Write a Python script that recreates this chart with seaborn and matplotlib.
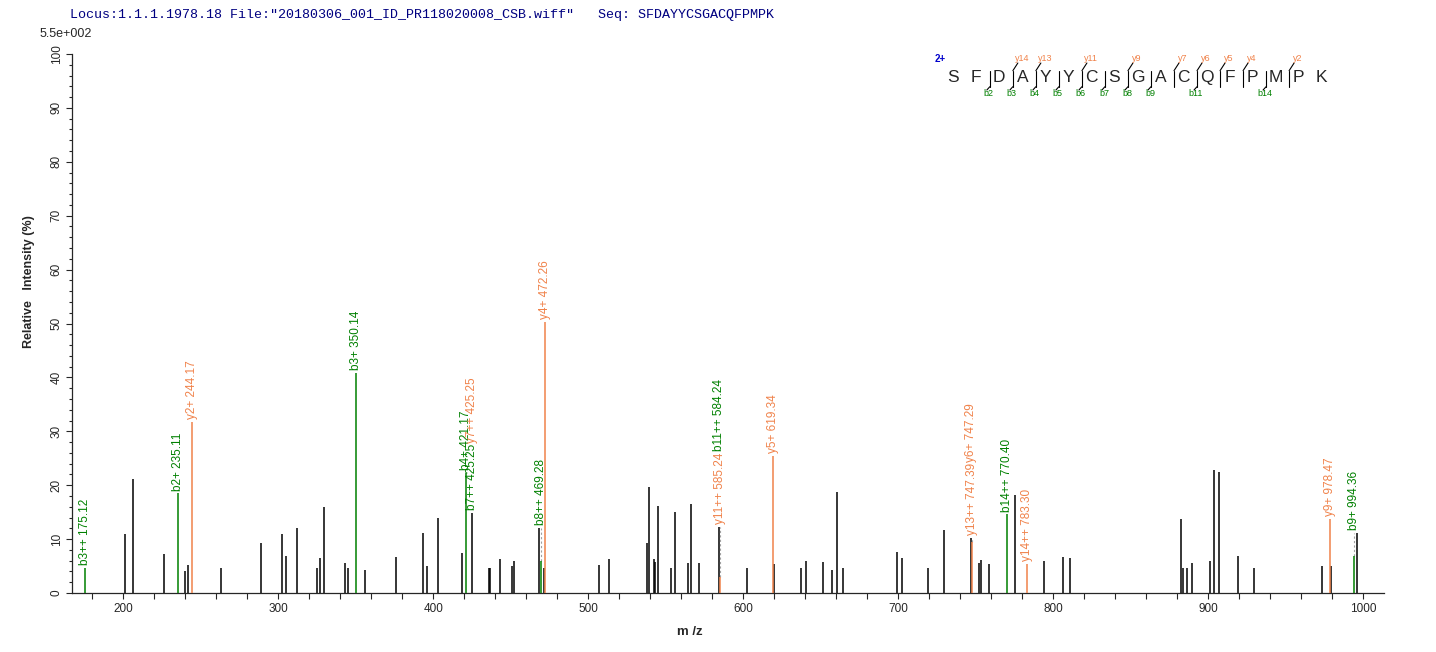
import seaborn as sns
import matplotlib.pyplot as plt
from matplotlib.ticker import MultipleLocator
from matplotlib.textpath import TextPath
from matplotlib.font_manager import FontProperties

# header / peptide info
HEADER = 'Locus:1.1.1.1978.18 File:"20180306_001_ID_PR118020008_CSB.wiff"   Seq: SFDAYYCSGACQFPMPK'
SEQUENCE = "SFDAYYCSGACQFPMPK"
B_IONS = [2, 3, 4, 5, 6, 7, 8, 9, 11, 14]
Y_IONS = [14, 13, 11, 9, 7, 6, 5, 4, 2]

# unassigned peaks (black)
peak_mz = [200.9, 206.5, 226.3, 239.6, 241.5, 262.8, 288.6, 302.6, 304.8, 311.9,
           324.8, 326.7, 329.7, 342.8, 344.8, 355.7, 375.7, 393.1, 395.7, 403.1,
           418.8, 425.0, 435.7, 436.8, 442.8, 450.8, 451.9, 468.0, 471.2, 506.7,
           513.1, 537.7, 539.0, 542.2, 542.8, 544.8, 553.1, 555.7, 564.1, 566.1,
           571.2, 584.3, 602.2, 620.2, 637.0, 640.7, 651.2, 657.0, 660.5, 664.1,
           699.2, 702.2, 719.0, 729.5, 746.9, 751.9, 753.4, 758.3, 775.1, 793.8,
           806.1, 811.2, 882.8, 883.5, 886.1, 889.3, 900.9, 904.1, 907.3, 919.0,
           929.3, 973.8, 979.0, 996.4]
peak_int = [11.0, 21.2, 7.3, 4.1, 5.2, 4.6, 9.2, 11.0, 6.8, 12.0,
            4.6, 6.5, 15.9, 5.5, 4.6, 4.2, 6.7, 11.1, 5.0, 13.9,
            7.5, 14.8, 4.6, 4.6, 6.4, 5.0, 5.9, 12.1, 4.6, 5.2,
            6.4, 9.2, 19.6, 6.4, 5.7, 16.1, 4.6, 15.0, 5.5, 16.6,
            5.5, 12.2, 4.6, 5.4, 4.6, 5.9, 5.7, 4.2, 18.7, 4.6,
            7.6, 6.5, 4.6, 11.6, 10.2, 5.5, 6.1, 5.4, 18.1, 5.9,
            6.7, 6.5, 13.7, 4.6, 4.6, 5.5, 5.9, 22.9, 22.4, 6.8,
            4.6, 5.0, 5.0, 11.1]

# matched fragment ions
ion_name = ["b3++", "b2+", "y2+", "b3+", "b4+", "b7++", "y7++", "b8++", "y4+",
            "y11++", "b11++", "y5+", "y13++", "y6+", "b14++", "y14++", "y9+", "b9+"]
ion_mz = [175.12, 235.11, 244.17, 350.14, 421.17, 425.25, 425.25, 469.28, 472.26,
          585.24, 584.24, 619.34, 747.39, 747.29, 770.40, 783.30, 978.47, 994.36]
ion_int = [4.6, 18.5, 31.8, 40.8, 22.3, 0, 0, 5.9, 50.3,
           3.0, 0, 25.5, 9.4, 0, 14.6, 5.4, 13.7, 6.8]

GREEN = "#008000"
ORANGE = "#f0824a"
W, H = 1436, 652

sns.set_style("ticks")
plt.rcParams["font.family"] = ["Liberation Sans", "DejaVu Sans"]

fig = plt.figure(figsize=(W / 100, H / 100), dpi=100)
ax = fig.add_axes([71.7 / W, 1 - 593 / H, (1384 - 71.7) / W, (593 - 54) / H])

ax.vlines(peak_mz, 0, peak_int, colors="black", lw=1.1, zorder=2)

# ion sticks + labels
lab_fp = FontProperties(family="Liberation Sans", size=8.5)
placed = []
for name, mz, inten in zip(ion_name, ion_mz, ion_int):
    col = GREEN if name.startswith("b") else ORANGE
    if inten > 0:
        ax.vlines(mz, 0, inten, colors=col, lw=1.1, zorder=3)
    near = [h for m, h in zip(peak_mz, peak_int) if abs(m - mz) <= 2.6]
    base = max([inten] + near)
    if inten > 0 and base > inten:
        ax.vlines(mz, inten, base, colors="#a0a0a0", lw=0.8, linestyles=(0, (2, 2)), zorder=2)
    text = f"{name} {mz:.2f}"
    off = 2.0
    for pm, pb, poff, plen in placed:
        if abs(pm - mz) <= 1.2:
            base = pb
            off = max(off, poff + plen + 1.5)
    ax.annotate(text, xy=(mz, base), xytext=(0, off), textcoords="offset points",
                rotation=90, ha="center", va="bottom", color=col, fontproperties=lab_fp)
    tlen = TextPath((0, 0), text, prop=lab_fp).get_extents().width
    placed.append((mz, base, off, tlen))

ax.set_xlim(166.7, 1013.5)
ax.set_ylim(0, 100)
ax.xaxis.set_major_locator(MultipleLocator(100))
ax.xaxis.set_minor_locator(MultipleLocator(20))
ax.yaxis.set_major_locator(MultipleLocator(10))
ax.yaxis.set_minor_locator(MultipleLocator(2))
ax.tick_params(axis="x", which="both", direction="out", length=4.5, width=0.8,
               labelsize=8.5, pad=3)
ax.tick_params(axis="y", which="major", direction="out", length=4.5, width=0.8,
               labelsize=8.5, labelrotation=90, pad=2)
ax.tick_params(axis="y", which="minor", direction="out", length=2.2, width=0.8)
for lbl in ax.get_yticklabels():
    lbl.set_va("center")
sns.despine(ax=ax)
for sp in ax.spines.values():
    sp.set_linewidth(0.9)

ax.set_xlabel("m /z", fontsize=9.5, fontweight="bold")
ax.xaxis.set_label_coords(0.471, -0.062)
ax.set_ylabel("Relative   Intensity (%)", fontsize=9, fontweight="bold")
ax.yaxis.set_label_coords(-0.028, 0.577)

# overlay in pixel coordinates for header and peptide map
ov = fig.add_axes([0, 0, 1, 1], facecolor="none")
ov.set_xlim(0, W)
ov.set_ylim(H, 0)
ov.axis("off")

ov.text(70, 15, HEADER, family="Liberation Mono", fontsize=9.6, color="#000080",
        ha="left", va="center")
ov.text(66, 34, "5.5e+002", fontsize=9, ha="center", va="center")

x0, step = 953.3, 23.02
ov.text(940, 59, "2+", fontsize=7, fontweight="bold", color="#0000cc", ha="center", va="center")
for i, aa in enumerate(SEQUENCE):
    ov.text(x0 + step * i, 77.5, aa, fontsize=12.5, ha="center", va="center")

breaks = sorted(set(B_IONS) | {len(SEQUENCE) - n for n in Y_IONS})
for k in breaks:
    xb = x0 + step * k - 9.5
    ov.plot([xb, xb], [70.7, 86.7], color="black", lw=0.8)
    if k in B_IONS:
        ov.plot([xb, xb - 3], [86.7, 90], color="black", lw=0.8)
        ov.text(xb - 1, 94, f"b{k}", fontsize=6.5, color=GREEN, ha="center", va="center")
    n = len(SEQUENCE) - k
    if n in Y_IONS:
        ov.plot([xb, xb + 5], [70.7, 63], color="black", lw=0.8)
        ov.text(xb + 9, 58.5, f"y{n}", fontsize=6.5, color=ORANGE, ha="center", va="center")

fig.savefig("out.png", dpi=100, facecolor="white")
